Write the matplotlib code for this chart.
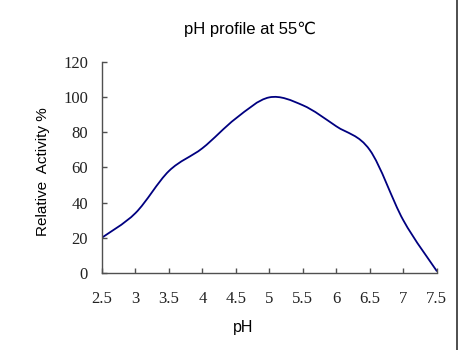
import matplotlib
matplotlib.use("Agg")
import matplotlib.pyplot as plt
import numpy as np
from matplotlib.path import Path
from matplotlib.patches import PathPatch
from matplotlib.lines import Line2D

ph = [2.5, 3, 3.5, 4, 4.5, 5, 5.5, 6, 6.5, 7, 7.5]
activity = [20, 34, 58, 71, 88, 100, 95.5, 83.5, 70, 30, 1]
tick_labels = ["2.5", "3", "3.5", "4", "4.5", "5", "5.5", "6", "6.5", "7", "7.5"]

sans = ["Liberation Sans", "DejaVu Sans"]
serif = "Liberation Serif"
grey = "#505050"


def smooth_path(xs, ys):
    # cubic bezier through every point, control points from neighbours
    p = np.column_stack([xs, ys])
    pad = np.vstack([p[0], p, p[-1]])
    verts = [p[0]]
    codes = [Path.MOVETO]
    for i in range(len(p) - 1):
        a, b, c, d = pad[i], pad[i + 1], pad[i + 2], pad[i + 3]
        verts += [b + (c - a) / 6, c - (d - b) / 6, c]
        codes += [Path.CURVE4] * 3
    return Path(verts, codes)


fig = plt.figure(figsize=(4.59, 3.5), dpi=100)
ax = fig.add_axes([0.2222, 0.2209, 0.7292, 0.6011])

ax.add_patch(PathPatch(smooth_path(ph, activity), fill=False,
                       edgecolor="#000080", lw=1.3, capstyle="round"))

ax.set_xlim(2.5, 7.5)
ax.set_ylim(0, 120)
ax.set_xticks(ph)
ax.set_xticklabels(tick_labels)
ax.set_yticks(range(0, 121, 20))

for s in ["top", "right"]:
    ax.spines[s].set_visible(False)
for s in ["left", "bottom"]:
    ax.spines[s].set_color(grey)
    ax.spines[s].set_linewidth(1.0)

ax.tick_params(axis="x", direction="in", length=3.6, width=1, color=grey, pad=13)
ax.tick_params(axis="y", direction="in", length=3.6, width=1, color=grey, pad=10)
for lab in ax.get_xticklabels() + ax.get_yticklabels():
    lab.set_fontfamily(serif)
    lab.set_fontsize(12)
    lab.set_color("#222222")

fig.text(250 / 459, 1 - 29 / 350, "pH profile at 55\u2103", family=sans,
         fontsize=12, ha="center", va="center")
ax.set_xlabel("pH", family=sans, fontsize=11.5)
ax.xaxis.set_label_coords(141 / 335, -0.223)
ax.set_ylabel("Relative  Activity %", family=sans, fontsize=11)
ax.yaxis.set_label_coords(-0.155, 0.48)

fig.add_artist(Line2D([0.9967, 0.9967], [0, 1], transform=fig.transFigure,
                      color="#303030", lw=1.2))

fig.savefig("out.png", dpi=100)
